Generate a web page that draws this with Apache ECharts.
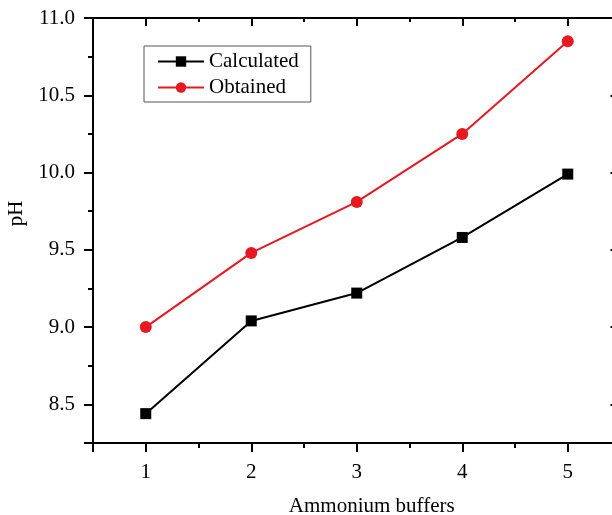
<!DOCTYPE html>
<html>
<head>
<meta charset="utf-8">
<script src="https://cdn.jsdelivr.net/npm/echarts@6/dist/echarts.min.js"></script>
<style>
html,body{margin:0;padding:0;background:#fff;}
#chart{width:612px;height:515px;}
</style>
</head>
<body>
<div id="chart"></div>
<script>
var buffers = [1, 2, 3, 4, 5];
var calculated = [8.44, 9.04, 9.22, 9.58, 9.99];
var obtained = [9.00, 9.48, 9.81, 10.25, 10.85];
var seriesNames = ['Calculated', 'Obtained'];
var xTitle = 'Ammonium buffers';
var yTitle = 'pH';

var FONT = '"Liberation Serif", "Times New Roman", serif';
var FS = 21;
var X_MIN = 0.5, X_MAX = 5.5, Y_MIN = 8.25, Y_MAX = 11.0;

function pairs(xs, ys) { return xs.map(function (x, i) { return [x, ys[i]]; }); }

var chart = echarts.init(document.getElementById('chart'), null, {renderer: 'canvas'});

var lineStyle = {color: '#000', width: 2};
var common = {type: 'value', splitLine: {show: false}};

chart.setOption({
  backgroundColor: '#fff',
  animation: false,
  grid: {left: 93, top: 18, right: -8.5, bottom: 72, show: false, containLabel: false, outerBoundsMode: 'none'},
  legend: {
    orient: 'vertical',
    left: 144, top: 46,
    padding: [5, 12, 4, 13],
    itemGap: 5,
    itemWidth: 46, itemHeight: 13,
    borderColor: '#555', borderWidth: 1,
    lineStyle: {width: 2},
    textStyle: {fontFamily: FONT, fontSize: FS, color: '#000'},
    data: seriesNames
  },
  xAxis: [
    Object.assign({}, common, {
      position: 'bottom', min: X_MIN, max: X_MAX, interval: 0.5,
      axisLine: {show: true, lineStyle: lineStyle},
      axisTick: {show: true, inside: false, length: 5, lineStyle: lineStyle},
      axisLabel: {margin: 19, fontFamily: FONT, fontSize: FS, color: '#000',
        formatter: function (v) { return Math.abs(v - Math.round(v)) < 1e-6 ? String(Math.round(v)) : ''; }},
      name: xTitle, nameLocation: 'middle', nameGap: 53,
      nameTextStyle: {fontFamily: FONT, fontSize: FS, color: '#000', padding: [0, 0, 0, 30]}
    }),
    Object.assign({}, common, {
      position: 'bottom', min: X_MIN, max: X_MAX,
      axisLine: {show: false},
      axisTick: {show: true, inside: false, length: 9, lineStyle: lineStyle},
      axisLabel: {show: false}
    }),
    Object.assign({}, common, {
      position: 'top', min: X_MIN, max: X_MAX, interval: 0.5,
      axisLine: {show: true, lineStyle: lineStyle},
      axisTick: {show: true, inside: true, length: 4, lineStyle: lineStyle},
      axisLabel: {show: false}
    }),
    Object.assign({}, common, {
      position: 'top', min: X_MIN, max: X_MAX,
      axisLine: {show: false},
      axisTick: {show: true, inside: true, length: 8, lineStyle: lineStyle},
      axisLabel: {show: false}
    })
  ],
  yAxis: [
    Object.assign({}, common, {
      position: 'left', min: Y_MIN, max: Y_MAX, interval: 0.25,
      axisLine: {show: true, lineStyle: lineStyle},
      axisTick: {show: true, inside: false, length: 5, lineStyle: lineStyle},
      axisLabel: {margin: 18, fontFamily: FONT, fontSize: FS, color: '#000',
        formatter: function (v) { return Math.abs(v * 2 - Math.round(v * 2)) < 1e-6 ? v.toFixed(1) : ''; }},
      name: yTitle, nameLocation: 'middle', nameGap: 59, nameRotate: 90,
      nameTextStyle: {fontFamily: FONT, fontSize: FS, color: '#000', padding: [0, 0, 0, 34]}
    }),
    Object.assign({}, common, {
      position: 'left', min: Y_MIN, max: Y_MAX,
      axisLine: {show: false},
      axisTick: {show: true, inside: false, length: 9, lineStyle: lineStyle},
      axisLabel: {show: false}
    }),
    Object.assign({}, common, {
      position: 'right', min: Y_MIN, max: Y_MAX,
      axisLine: {show: true, lineStyle: lineStyle},
      axisTick: {show: true, inside: true, length: 10, lineStyle: lineStyle},
      axisLabel: {show: false}
    })
  ],
  series: [
    {
      name: seriesNames[0], type: 'line', xAxisIndex: 0, yAxisIndex: 0,
      data: pairs(buffers, calculated),
      symbol: 'rect', symbolSize: 11, showAllSymbol: true,
      lineStyle: {color: '#000', width: 2},
      itemStyle: {color: '#000'}
    },
    {
      name: seriesNames[1], type: 'line', xAxisIndex: 0, yAxisIndex: 0,
      data: pairs(buffers, obtained),
      symbol: 'circle', symbolSize: 12, showAllSymbol: true,
      lineStyle: {color: '#e5191f', width: 2},
      itemStyle: {color: '#e5191f'}
    }
  ]
});
</script>
</body>
</html>
